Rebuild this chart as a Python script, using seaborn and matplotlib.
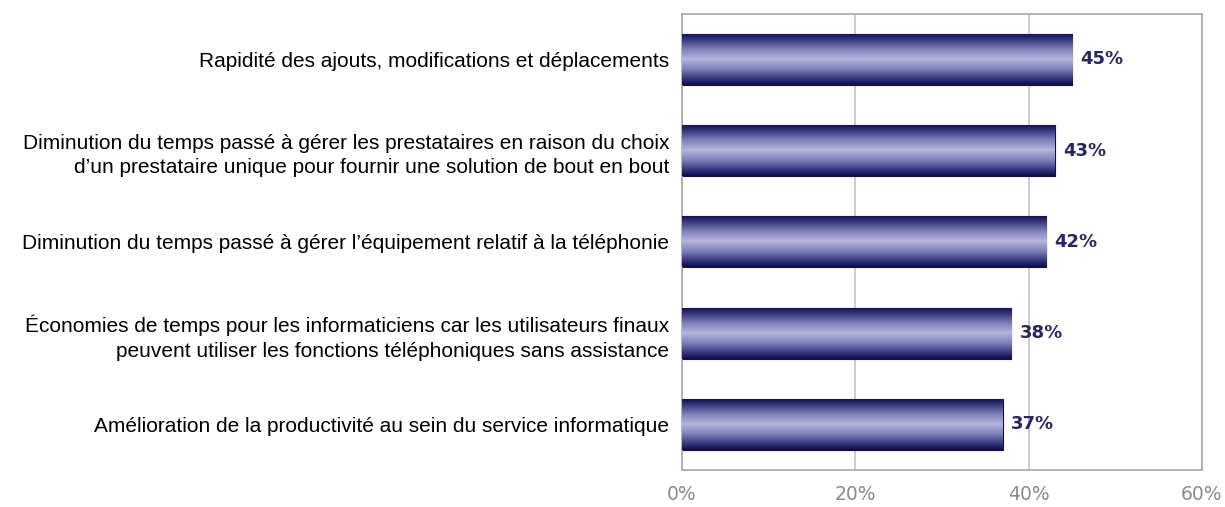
import numpy as np
import pandas as pd
import matplotlib
matplotlib.use("Agg")
import matplotlib.pyplot as plt
from matplotlib.colors import LinearSegmentedColormap
import seaborn as sns

categories = [
    "Rapidité des ajouts, modifications et déplacements",
    "Diminution du temps passé à gérer les prestataires en raison du choix\nd’un prestataire unique pour fournir une solution de bout en bout",
    "Diminution du temps passé à gérer l’équipement relatif à la téléphonie",
    "Économies de temps pour les informaticiens car les utilisateurs finaux\npeuvent utiliser les fonctions téléphoniques sans assistance",
    "Amélioration de la productivité au sein du service informatique",
]
values = [45, 43, 42, 38, 37]
xticks = [0, 20, 40, 60]
xtick_labels = ["0%", "20%", "40%", "60%"]

df = pd.DataFrame({"cat": categories, "val": values})

sns.set_style("white")
plt.rcParams["font.family"] = ["Liberation Sans", "DejaVu Sans"]

fig = plt.figure(figsize=(12.25, 5.07), dpi=100)
ax = fig.add_axes([0.5567, 0.073, 0.4245, 0.9])

sns.barplot(data=df, x="val", y="cat", color="#1a1a5e", width=0.56, ax=ax,
            saturation=1)

# gradient fill inside each bar (dark edges, light centre)
cmap = LinearSegmentedColormap.from_list(
    "bar", [(0.0, "#0c0c4e"), (0.12, "#34367a"), (0.3, "#7c7eb8"),
            (0.5, "#b4b6dc"), (0.7, "#7c7eb8"), (0.88, "#34367a"), (1.0, "#0c0c4e")])
grad = np.linspace(0, 1, 256).reshape(-1, 1)
for p in ax.patches:
    x0, y0 = p.get_x(), p.get_y()
    w, h = p.get_width(), p.get_height()
    im = ax.imshow(grad, cmap=cmap, aspect="auto",
                   extent=[x0, x0 + w, y0 + h, y0], zorder=3)
    im.set_clip_path(p)
    p.set_edgecolor("#10104a")
    p.set_linewidth(0.8)

for i, v in enumerate(values):
    ax.text(v + 1.0, i, f"{v}%", va="center", ha="left", fontsize=13,
            fontweight="bold", color="#26266a", family=["DejaVu Sans"], zorder=5)

ax.set_xlim(0, 60)
ax.set_ylim(4.5, -0.5)
ax.set_xticks(xticks)
ax.set_xticklabels(xtick_labels, color="#8a8a8a", fontsize=13.5, family=["DejaVu Sans"])
ax.tick_params(axis="x", length=5, color="#a0a0a0", pad=6, direction="out")
ax.tick_params(axis="y", length=0, labelsize=15, pad=9, labelcolor="black")
ax.set_yticks(range(len(categories)))
ax.set_yticklabels(categories, ha="right", linespacing=1.35)
ax.set_yticks(np.arange(-0.5, 5, 1), minor=True)
ax.tick_params(axis="y", which="minor", length=5, color="#a0a0a0", direction="out")
ax.set_xlabel("")
ax.set_ylabel("")
ax.grid(axis="x", color="#c4c4c4", linewidth=1.2, zorder=0)
ax.set_axisbelow(True)
for s in ax.spines.values():
    s.set_visible(True)
    s.set_color("#a8a8a8")
    s.set_linewidth(1.2)

fig.savefig("out.png", dpi=100)
